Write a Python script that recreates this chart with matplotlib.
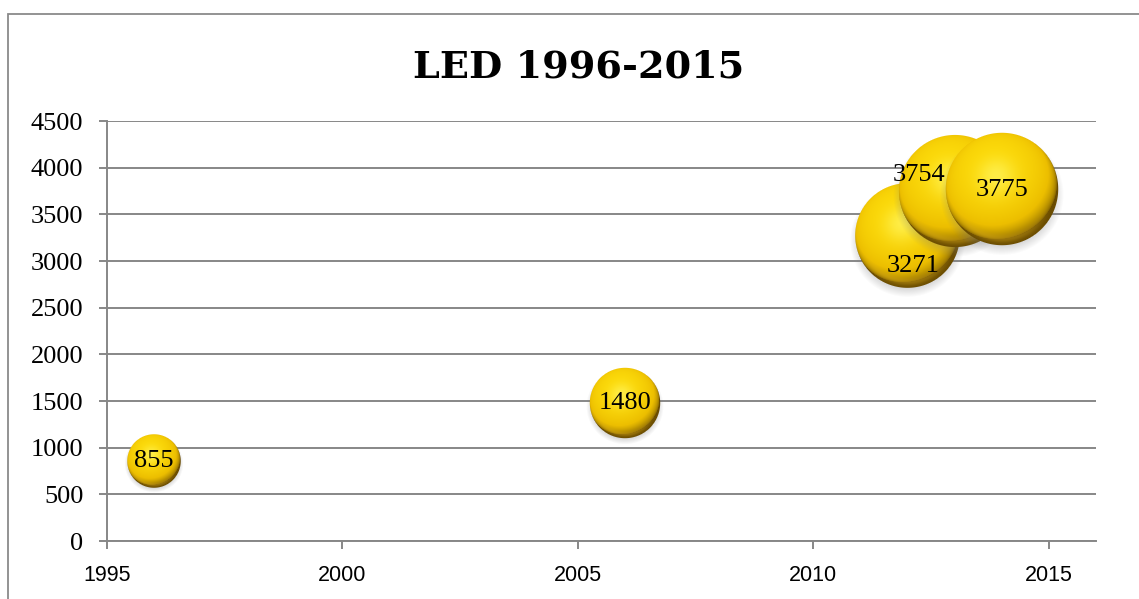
import numpy as np
import matplotlib
matplotlib.use("Agg")
import matplotlib.pyplot as plt
from matplotlib.offsetbox import OffsetImage, AnnotationBbox
from matplotlib.patches import Rectangle

# data
years = [1996, 2006, 2012, 2013, 2014]
counts = [855, 1480, 3271, 3754, 3775]
title = "LED 1996-2015"
x_ticks = [1995, 2000, 2005, 2010, 2015]
y_ticks = [0, 500, 1000, 1500, 2000, 2500, 3000, 3500, 4000, 4500]

# label nudges in points (Excel labels were moved by hand)
label_offsets = [(0, 0), (0, 0), (4, -22), (-26, 11), (0, -1)]

DPI = 100
GRID = "#878787"
BUBBLE_SCALE = 1.83  # bubble diameter in px = scale * sqrt(value)


def sphere_image(diam):
    # golden glossy ball with soft shadow, as RGBA array
    pad = 0.22
    S = int(np.ceil(diam * (1 + 2 * pad)))
    yy, xx = np.mgrid[0:S, 0:S] + 0.5
    c = S / 2.0
    R = diam / 2.0
    u = (xx - c) / R
    v = (c - yy) / R
    r = np.sqrt(u ** 2 + v ** 2)
    nz = np.sqrt(np.clip(1 - r ** 2, 0, 1))

    L = np.array([-0.2, 0.45, 0.87])
    L = L / np.linalg.norm(L)
    diff = np.clip(u * L[0] + v * L[1] + nz * L[2], 0, 1)
    H = L + np.array([0, 0, 1.0])
    H = H / np.linalg.norm(H)
    spec = np.clip(u * H[0] + v * H[1] + nz * H[2], 0, 1) ** 18

    dark = np.array([105, 75, 0]) / 255
    gold = np.array([236, 190, 0]) / 255
    yellow = np.array([252, 218, 10]) / 255
    hi = np.array([255, 242, 85]) / 255

    t = (diff ** 0.55)[..., None]
    col = np.where(t < 0.6,
                   dark + (gold - dark) * (t / 0.6),
                   gold + (yellow - gold) * ((t - 0.6) / 0.4))
    col = col + (hi - col) * (spec[..., None] * 0.8)

    # lighter reflection band along the lower rim
    band = np.exp(-((r - 0.88) / 0.07) ** 2) * np.clip(-v - 0.3, 0, 1)
    col = col + (np.array([240, 190, 30]) / 255 - col) * (band[..., None] * 0.6)

    a_sph = np.clip((1 - r) * R + 0.5, 0, 1)

    # soft shadow under the ball
    ds = np.sqrt((u * 0.98) ** 2 + ((v + 0.1) / 1.0) ** 2)
    a_sh = 0.35 * np.clip((1.08 - ds) / 0.2, 0, 1)
    sh_col = np.array([0.5, 0.5, 0.5])

    a_out = a_sph + a_sh * (1 - a_sph)
    rgb = (col * a_sph[..., None] + sh_col * (a_sh * (1 - a_sph))[..., None]) / np.maximum(a_out, 1e-6)[..., None]
    img = np.dstack([np.clip(rgb, 0, 1), a_out])
    return img


fig = plt.figure(figsize=(11.39, 5.99), dpi=DPI)
fig.patch.set_facecolor("white")

# chart area border (runs off the right/bottom of the picture)
fig.patches.append(Rectangle((8 / 1139, -0.05), 1.2, 1 - 14 / 599 + 0.05,
                             transform=fig.transFigure, fill=False,
                             edgecolor="#8a8a8a", linewidth=1.3))

ax = fig.add_axes([107 / 1139, 58 / 599, (1096 - 107) / 1139, 420 / 599])
ax.set_xlim(1995, 2016)
ax.set_ylim(0, 4500)
ax.set_xticks(x_ticks)
ax.set_yticks(y_ticks)

ax.yaxis.grid(True, color=GRID, linewidth=1.4)
ax.set_axisbelow(True)
for s in ["top", "right"]:
    ax.spines[s].set_visible(False)
for s in ["left", "bottom"]:
    ax.spines[s].set_color(GRID)
    ax.spines[s].set_linewidth(1.4)

ax.tick_params(axis="y", direction="out", length=6, width=1.4, color=GRID, pad=11,
               labelsize=19)
ax.tick_params(axis="x", direction="out", length=6, width=1.4, color=GRID, pad=11,
               labelsize=15.5)
for lab in ax.get_yticklabels():
    lab.set_family("Liberation Serif")
for lab in ax.get_xticklabels():
    lab.set_family("Liberation Sans")

fig.text(579 / 1139, 1 - 78 / 599, title, fontsize=27.5, fontweight="bold",
         family="DejaVu Serif", ha="center", va="baseline")

for i, (yr, n) in enumerate(zip(years, counts)):
    diam = BUBBLE_SCALE * np.sqrt(n)
    oi = OffsetImage(sphere_image(diam), zoom=1, dpi_cor=False)
    ab = AnnotationBbox(oi, (yr, n), xycoords="data", frameon=False, pad=0,
                        box_alignment=(0.5, 0.5), annotation_clip=False)
    ab.set_zorder(3 + i)
    ax.add_artist(ab)

for (yr, n), (dx, dy) in zip(zip(years, counts), label_offsets):
    ax.annotate(str(n), (yr, n), xytext=(dx, dy), textcoords="offset points",
                ha="center", va="center", fontsize=19, family="Liberation Serif",
                color="black", zorder=20)

fig.savefig("out.png", dpi=DPI, facecolor="white")
